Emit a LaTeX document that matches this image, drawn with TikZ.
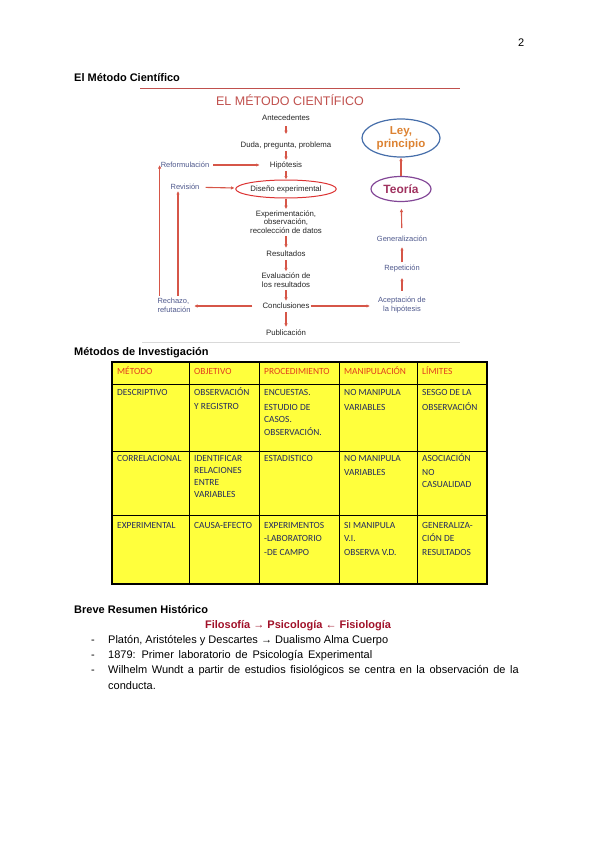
\documentclass[tikz,border=0pt]{standalone}
\usepackage{fontspec}
\setmainfont{Liberation Sans}
\newfontfamily\calibri{Carlito}
\usetikzlibrary{arrows.meta,positioning,shapes.geometric}
\definecolor{rojoT}{RGB}{192,80,77}
\definecolor{rojoF}{RGB}{214,86,72}
\definecolor{rojoE}{RGB}{220,50,50}
\definecolor{azulT}{RGB}{78,88,140}
\definecolor{azulE}{RGB}{70,110,170}
\definecolor{naranjaL}{RGB}{220,130,50}
\definecolor{moradoE}{RGB}{130,70,150}
\definecolor{moradoT}{RGB}{160,50,95}
\definecolor{amarillo}{RGB}{255,255,60}
\definecolor{rojoC}{RGB}{225,60,30}
\definecolor{azulC}{RGB}{35,42,95}
\definecolor{granate}{RGB}{160,16,40}
\newcommand\lineas[1]{\begin{tabular}[t]{@{}l@{}}#1\end{tabular}}
\begin{document}
\begin{tikzpicture}[x=1pt, y=-1pt,
        paso/.style={font=\fontsize{7.8}{8.8}\selectfont, text=black!85, align=center, inner sep=1pt}, % pasos del metodo
        lado/.style={font=\fontsize{7.5}{9}\selectfont, text=azulT, align=center, inner sep=1pt}, % ramas laterales
        flecha/.style={draw=rojoF, line width=1.1pt, -{Latex[length=3.5pt,width=3.5pt]}},
        celda/.style={font=\calibri\fontsize{9.4}{13}\selectfont, text=azulC, anchor=base west, inner sep=0pt},
        cabeza/.style={celda, text=rojoC},
        titulo/.style={font=\bfseries\fontsize{11}{13}\selectfont, anchor=base west, inner sep=0pt},
        texto/.style={font=\fontsize{11}{13}\selectfont, anchor=base west, inner sep=0pt},
    ]
    \useasboundingbox (0,0) rectangle (600,848);

    \node[texto] (pag) at (518,47) {2};
    \node[titulo] (tit1) at (74,82) {El Método Científico};

    % esquema del metodo
    \draw[rojoT, line width=0.8pt] (140,88) -- (460,88);
    \draw[gray!30, line width=0.8pt] (142,342) -- (460,342);
    \node[font=\fontsize{12.5}{14}\selectfont, text=rojoT] (metodo) at (290,100) {EL MÉTODO CIENTÍFICO};

    \node[paso] (ante) at (286,118) {Antecedentes};
    \node[paso] (duda) at (286,145) {Duda, pregunta, problema};
    \node[paso] (hipo) at (286,165) {Hipótesis};
    \node[paso, ellipse, draw=rojoE, line width=1pt, minimum width=91pt, minimum height=18pt, inner sep=0pt] (dise) at (286,189) {Diseño experimental};
    \node[paso] (expe) at (286,222) {Experimentación,\\observación,\\recolección de datos};
    \node[paso] (resu) at (286,254) {Resultados};
    \node[paso] (eval) at (286,280) {Evaluación de\\los resultados};
    \node[paso] (conc) at (286,306) {Conclusiones};
    \node[paso] (publ) at (286,333) {Publicación};

    \node[lado] (refo) at (185,165) {Reformulación};
    \node[lado] (revi) at (185,187) {Revisión};
    \node[lado, align=left] (rech) at (174,305) {Rechazo,\\refutación};

    \node[lado] (acep) at (402,305) {Aceptación de\\la hipótesis};
    \node[lado] (repe) at (402,269) {Repetición};
    \node[lado] (gene) at (402,239) {Generalización};
    \node[ellipse, draw=moradoE, line width=1.2pt, minimum width=60pt, minimum height=25pt, inner sep=0pt,
          font=\bfseries\fontsize{12}{13}\selectfont, text=moradoT] (teor) at (401,189) {Teoría};
    \node[ellipse, draw=azulE, line width=1.2pt, minimum width=78pt, minimum height=38pt, inner sep=0pt, align=center,
          font=\bfseries\fontsize{11.5}{13}\selectfont, text=naranjaL] (ley) at (401,138) {Ley,\\principio};

    \draw[flecha, shorten <=4pt, shorten >=6pt] (ante) -- (duda);
    \draw[flecha, shorten <=1.5pt] (duda) -- (hipo);
    \draw[flecha, shorten <=1pt] (hipo) -- (dise);
    \draw[flecha] (dise) -- (expe);
    \draw[flecha, shorten <=1.5pt, shorten >=2pt] (expe) -- (resu);
    \draw[flecha, shorten <=2pt] (resu) -- (eval);
    \draw[flecha, shorten <=1.5pt, shorten >=1pt] (eval) -- (conc);
    \draw[flecha, shorten <=2pt, shorten >=2pt] (conc) -- (publ);
    \draw[flecha, shorten <=3pt, shorten >=9pt] (refo) -- (hipo);
    \draw[flecha, shorten <=5pt, shorten >=1pt] (revi) -- (dise);
    \draw[flecha, shorten <=9pt, shorten >=2.5pt] (conc.west) -- (rech.east |- conc.west);
    \draw[flecha, shorten <=1pt] (refo.west |- rech.north) -- (refo.west);
    \draw[flecha, shorten <=1pt] ([xshift=-7pt]revi.south |- rech.north) -- ([xshift=-7pt]revi.south);
    \draw[flecha, shorten >=7pt] (conc.east) -- (acep.west |- conc.east);
    \draw[flecha, shorten <=5pt, shorten >=4pt] (acep) -- (repe);
    \draw[flecha, shorten <=2pt, shorten >=4pt] (repe) -- (gene);
    \draw[flecha, shorten <=7pt, shorten >=6.5pt] (gene) -- (teor);
    \draw[flecha] (teor) -- (ley);

    % tabla de metodos
    \node[titulo] (tit2) at (74,355) {Métodos de Investigación};
    \fill[amarillo] (112,362) rectangle (487,584);
    \foreach \x in {189,259,339,417} \draw[line width=0.8pt] (\x,362) -- (\x,584);
    \foreach \y in {384,451,515} \draw[line width=0.8pt] (112,\y) -- (487,\y);
    \draw[line width=1.1pt] (112,362) rectangle (487,584);

    \node[cabeza] (c1) at (117,374) {MÉTODO};
    \node[cabeza] (c2) at (194,374) {OBJETIVO};
    \node[cabeza] (c3) at (264,374) {PROCEDIMIENTO};
    \node[cabeza] (c4) at (344,374) {MANIPULACIÓN};
    \node[cabeza] (c5) at (422,374) {LÍMITES};

    \node[celda] (d1) at (117,395) {DESCRIPTIVO};
    \node[celda] (d2) at (194,395) {\lineas{OBSERVACIÓN\\[1pt]Y REGISTRO}};
    \node[celda] (d3) at (264,395) {\lineas{ENCUESTAS.\\[2pt]ESTUDIO DE\\[-1pt]CASOS.\\OBSERVACIÓN.}};
    \node[celda] (d4) at (344,395) {\lineas{NO MANIPULA\\[2pt]VARIABLES}};
    \node[celda] (d5) at (422,395) {\lineas{SESGO DE LA\\[2pt]OBSERVACIÓN}};

    \node[celda] (r1) at (117,461) {CORRELACIONAL};
    \node[celda] (r2) at (194,461) {\lineas{IDENTIFICAR\\[-1pt]RELACIONES\\[-1pt]ENTRE\\[-1pt]VARIABLES}};
    \node[celda] (r3) at (264,461) {ESTADISTICO};
    \node[celda] (r4) at (344,461) {\lineas{NO MANIPULA\\[1pt]VARIABLES}};
    \node[celda] (r5) at (422,461) {\lineas{ASOCIACIÓN\\[1pt]NO\\[-1pt]CASUALIDAD}};

    \node[celda] (e1) at (117,528) {EXPERIMENTAL};
    \node[celda] (e2) at (194,528) {CAUSA-EFECTO};
    \node[celda] (e3) at (264,528) {\lineas{EXPERIMENTOS\\[0.5pt]-LABORATORIO\\[0.5pt]-DE CAMPO}};
    \node[celda] (e4) at (344,528) {\lineas{SI MANIPULA\\[0.5pt]V.I.\\[0.5pt]OBSERVA V.D.}};
    \node[celda] (e5) at (422,528) {\lineas{GENERALIZA-\\[0.5pt]CIÓN DE\\[0.5pt]RESULTADOS}};

    % resumen historico
    \node[titulo] (tit3) at (74,613) {Breve Resumen Histórico};
    \node[titulo, anchor=base, text=granate] (ramas) at (298,628) {Filosofía → Psicología ← Fisiología};
    \node[texto] (g1) at (91,643) {-};
    \node[texto] (t1) at (108,643) {Platón, Aristóteles y Descartes → Dualismo Alma Cuerpo};
    \node[texto] (g2) at (91,658) {-};
    \node[texto] (t2) at (108,658) {\spaceskip=4.8pt\relax 1879: Primer laboratorio de Psicología Experimental};
    \node[texto] (g3) at (91,673) {-};
    \node[texto] (t3) at (108,673) {\spaceskip=4.5pt\relax Wilhelm Wundt a partir de estudios fisiológicos se centra en la observación de la};
    \node[texto] (t4) at (108,689) {conducta.};
\end{tikzpicture}
\end{document}
